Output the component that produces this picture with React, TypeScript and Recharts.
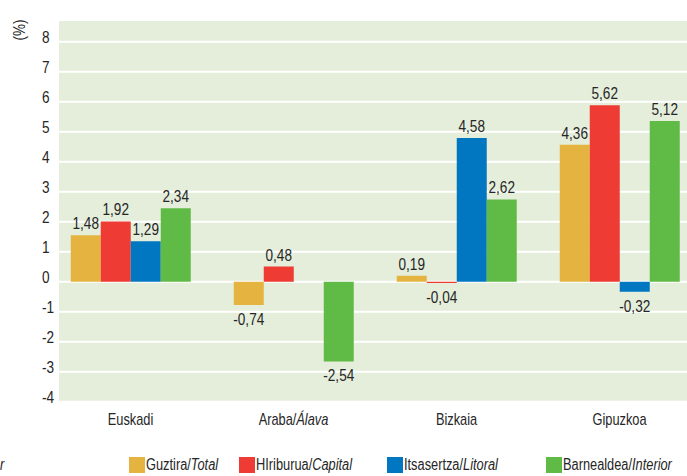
import React from 'react';
import { BarChart, Bar, XAxis, YAxis, CartesianGrid, LabelList, Legend } from 'recharts';

const categories = ['Euskadi', 'Araba/Álava', 'Bizkaia', 'Gipuzkoa'];
const totalValues = [1.48, -0.74, 0.19, 4.36];
const capitalValues = [1.92, 0.48, -0.04, 5.62];
const litoralValues: (number | null)[] = [1.29, null, 4.58, -0.32];
const interiorValues = [2.34, -2.54, 2.62, 5.12];
const seriesKeys = ['total', 'capital', 'litoral', 'interior'];
const seriesNamesEu = ['Guztira', 'HIriburua', 'Itsasertza', 'Barnealdea'];
const seriesNamesEs = ['Total', 'Capital', 'Litoral', 'Interior'];
const seriesColors = ['#E5B340', '#EE3B33', '#0077C0', '#60BA46'];
const yTicks = [-4, -3, -2, -1, 0, 1, 2, 3, 4, 5, 6, 7, 8];

const data = categories.map((c, i) => ({
  name: c,
  total: totalValues[i],
  capital: capitalValues[i],
  litoral: litoralValues[i],
  interior: interiorValues[i],
}));

const FONT = "'Liberation Sans', Arial, sans-serif";
const TEXT = '#262626';
const SX = 0.8;

const fmt = (v: number) => v.toFixed(2).replace('.', ',');

const renderLabel = (props: any) => {
  const { x, y, width, height, value } = props;
  if (value === null || value === undefined) return null;
  const top = Math.min(y, y + height);
  const bottom = Math.max(y, y + height);
  const cx = x + width / 2;
  const ty = value >= 0 ? top - 6 : bottom + 20;
  return (
    <text
      transform={`translate(${cx},${ty}) scale(${SX},1)`}
      textAnchor="middle"
      fontFamily={FONT}
      fontSize={17}
      fill={TEXT}
    >
      {fmt(value)}
    </text>
  );
};

const YTick = (props: any) => {
  const { y, payload } = props;
  return (
    <text
      transform={`translate(42,${y + 1.5}) scale(${SX},1)`}
      textAnchor="start"
      fontFamily={FONT}
      fontSize={17}
      fill={TEXT}
    >
      {payload.value}
    </text>
  );
};

const XTick = (props: any) => {
  const { x, y, payload } = props;
  const parts = String(payload.value).split('/');
  return (
    <text
      transform={`translate(${x},${y + 14}) scale(${SX},1)`}
      textAnchor="middle"
      fontFamily={FONT}
      fontSize={16}
      fill={TEXT}
    >
      {parts[0]}
      {parts.length > 1 ? '/' : ''}
      {parts.length > 1 ? <tspan fontStyle="italic">{parts[1]}</tspan> : null}
    </text>
  );
};

const legendLefts = [129, 239, 387, 546];

const LegendContent = () => (
  <div style={{ position: 'relative', width: 687, height: 20, fontFamily: FONT, fontSize: 16, color: TEXT }}>
    <span
      style={{
        position: 'absolute',
        left: 0,
        top: 0,
        lineHeight: '20px',
        fontStyle: 'italic',
        transform: `scaleX(${SX})`,
        transformOrigin: 'left center',
      }}
    >
      r
    </span>
    {seriesKeys.map((k, i) => (
      <div key={k} style={{ position: 'absolute', left: legendLefts[i], top: 0, height: 20, display: 'flex', alignItems: 'center' }}>
        <span style={{ display: 'inline-block', width: 16, height: 16, background: seriesColors[i], marginRight: 1, flex: 'none' }} />
        <span
          style={{
            lineHeight: '20px',
            whiteSpace: 'nowrap',
            display: 'inline-block',
            transform: `scaleX(${SX})`,
            transformOrigin: 'left center',
          }}
        >
          {seriesNamesEu[i]}/<i>{seriesNamesEs[i]}</i>
        </span>
      </div>
    ))}
  </div>
);

export default function App() {
  return (
    <div style={{ position: 'absolute', left: 0, top: 0, width: 687, height: 476, background: '#fff', overflow: 'hidden' }}>
      <BarChart
        width={687}
        height={476}
        data={data}
        margin={{ top: 20, right: 0, bottom: 33.3, left: 0 }}
        barCategoryGap={21.75}
        barGap={0}
      >
        <CartesianGrid
          yAxisId="grid"
          vertical={false}
          stroke="#ffffff"
          strokeWidth={2}
          fill="#E4EEDB"
          fillOpacity={1}
        />
        <XAxis
          dataKey="name"
          axisLine={false}
          tickLine={false}
          height={40}
          padding={{ left: -10, right: -14 }}
          tick={<XTick />}
          interval={0}
        />
        <YAxis
          yAxisId="grid"
          width={59}
          domain={[-4.033, 8.723]}
          ticks={yTicks}
          allowDataOverflow
          axisLine={false}
          tickLine={false}
          tick={<YTick />}
          interval={0}
          label={{
            content: () => (
              <text
                transform="translate(20,30) rotate(-90) scale(0.85,1)"
                textAnchor="middle"
                dominantBaseline="central"
                fontFamily={FONT}
                fontSize={16}
                fill={TEXT}
              >
                (%)
              </text>
            ),
          }}
        />
        <YAxis yAxisId="bars" hide domain={[-3.854, 8.335]} allowDataOverflow />
        {seriesKeys.map((k, i) => (
          <Bar key={k} dataKey={k} yAxisId="bars" fill={seriesColors[i]} isAnimationActive={false}>
            <LabelList dataKey={k} content={renderLabel} />
          </Bar>
        ))}
        <Legend
          layout="horizontal"
          verticalAlign="middle"
          align="center"
          wrapperStyle={{ top: 455, left: 0, width: 687 }}
          content={<LegendContent />}
        />
      </BarChart>
    </div>
  );
}
